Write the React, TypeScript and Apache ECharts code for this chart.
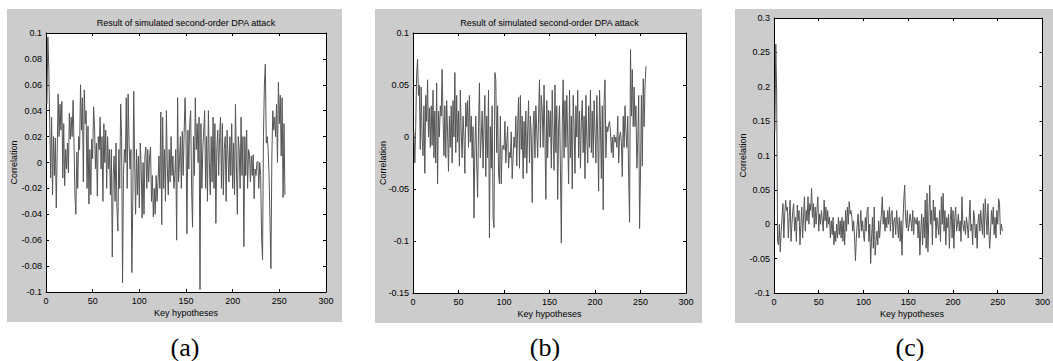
import React, { useEffect, useRef } from "react";
import * as echarts from "echarts";

const KEYS: number[] = Array.from({ length: 256 }, (_, i) => i + 1);

const TITLE = "Result of simulated second-order DPA attack";
const X_NAME = "Key hypotheses";
const Y_NAME = "Correlation";
const PANEL_LABELS = ["(a)", "(b)", "(c)"];

const SERIES_A: number[] = [
  0.045, 0.097, 0.072, 0.03, -0.012, 0.035, -0.025, 0.02, -0.01, 0.019, -0.035, 0.008, 0.053, 0.02, 0.045, 0.025,
  0.047, -0.012, 0.03, -0.018, 0.01, -0.005, 0.015, -0.008, 0.038, 0.018, 0.035, 0.02, 0.048, 0.015, -0.025, -0.04,
  0.008, -0.02, 0.02, 0.01, 0.06, 0.025, 0.05, -0.015, 0.056, 0.03, 0.04, -0.02, 0.028, -0.032, 0.01, -0.025,
  0.018, 0.003, 0.043, 0.028, -0.005, 0.015, -0.026, 0.02, 0.01, 0.035, -0.005, 0.02, -0.03, 0.03, 0.0, 0.025,
  -0.02, 0.02, -0.005, 0.01, -0.025, 0.01, -0.073, -0.01, 0.005, -0.03, 0.015, -0.035, -0.053, 0.01, -0.02, 0.045,
  0.02, -0.093, -0.01, 0.01, 0.0, 0.05, -0.02, 0.053, 0.015, -0.005, 0.01, -0.085, -0.03, 0.055, 0.0, -0.04,
  0.01, -0.025, 0.005, -0.035, 0.015, -0.005, -0.043, 0.0, -0.04, 0.005, 0.012, -0.02, 0.01, -0.015, 0.005, 0.012,
  -0.03, -0.01, -0.042, -0.02, -0.04, -0.01, -0.03, -0.015, 0.005, -0.02, 0.039, -0.048, 0.035, -0.02, 0.01, -0.03,
  0.04, -0.005, -0.025, 0.01, -0.015, 0.02, -0.01, 0.005, -0.02, -0.01, 0.01, -0.06, 0.05, -0.015, 0.0, 0.02,
  -0.02, 0.024, -0.01, 0.023, 0.05, 0.02, -0.055, 0.025, -0.005, 0.03, 0.04, -0.02, -0.05, 0.02, -0.01, 0.05,
  0.01, 0.03, 0.0, 0.035, -0.098, 0.03, -0.02, 0.01, 0.025, 0.04, -0.02, 0.02, -0.03, 0.04, 0.0, -0.025,
  0.02, -0.015, 0.035, -0.02, 0.03, -0.047, 0.01, 0.025, -0.01, 0.02, 0.035, -0.02, 0.03, -0.025, 0.01, 0.02,
  -0.03, 0.025, 0.005, -0.015, 0.02, -0.01, 0.03, -0.02, 0.015, -0.025, 0.045, 0.0, -0.04, 0.02, 0.01, -0.02,
  0.035, -0.01, 0.02, -0.065, 0.02, -0.01, 0.025, -0.02, 0.01, 0.007, -0.015, 0.005, -0.01, 0.006, -0.028, -0.005,
  -0.01, 0.0, 0.001, -0.02, 0.0, -0.01, -0.058, -0.075, 0.02, 0.06, 0.076, 0.015, 0.02, 0.01, -0.01, -0.045,
  -0.082, 0.005, 0.04, 0.025, 0.035, 0.02, 0.045, 0.0, 0.062, 0.03, 0.052, 0.005, 0.05, -0.027, 0.03, -0.025,
];

const SERIES_B: number[] = [
  0.005, -0.025, 0.01, 0.06, 0.075, 0.04, 0.05, -0.012, 0.048, 0.0, -0.018, 0.03, -0.035, 0.04, 0.015, 0.055,
  0.0, 0.028, -0.01, 0.03, -0.008, 0.045, -0.02, 0.025, -0.025, 0.052, -0.045, 0.025, 0.0, 0.03, 0.02, 0.065,
  0.02, -0.018, 0.03, -0.02, 0.035, 0.005, -0.033, 0.02, -0.01, 0.03, -0.025, 0.035, 0.0, 0.062, -0.015, 0.04,
  -0.005, 0.025, -0.028, 0.045, 0.005, -0.02, 0.02, 0.0, -0.035, 0.033, 0.01, 0.035, -0.01, 0.04, -0.005, 0.02,
  -0.02, 0.01, -0.078, -0.01, 0.02, -0.025, -0.058, 0.01, 0.052, -0.02, 0.0, 0.025, -0.03, 0.01, 0.04, -0.038,
  0.02, -0.02, 0.045, -0.097, 0.01, -0.03, 0.03, -0.078, -0.087, 0.062, 0.055, -0.015, 0.03, -0.035, -0.045, 0.02,
  -0.045, -0.01, -0.008, -0.012, 0.015, -0.025, -0.005, 0.01, -0.03, -0.015, -0.02, 0.005, -0.04, -0.02, 0.0, -0.01,
  0.02, -0.028, 0.01, 0.038, -0.03, 0.04, -0.012, 0.02, -0.04, 0.015, -0.02, 0.025, -0.035, 0.005, 0.035, -0.025,
  0.02, 0.0, -0.063, 0.01, 0.025, -0.02, 0.03, 0.005, -0.02, 0.02, 0.055, -0.01, 0.04, 0.025, -0.01, 0.05,
  0.0, -0.06, 0.035, -0.02, 0.026, 0.0, 0.025, -0.03, 0.045, 0.0, -0.032, 0.05, -0.015, 0.03, -0.06, 0.01,
  0.03, -0.03, -0.102, 0.01, 0.055, -0.02, 0.035, -0.01, 0.04, 0.0, -0.045, 0.045, -0.02, 0.02, -0.05, 0.04,
  0.01, -0.035, 0.03, 0.0, 0.045, -0.02, 0.025, -0.03, 0.015, 0.035, -0.015, 0.02, -0.04, 0.04, 0.0, -0.025,
  0.03, -0.01, 0.045, -0.015, 0.025, -0.02, 0.035, 0.005, -0.025, 0.04, 0.0, -0.052, 0.045, 0.01, -0.04, 0.03,
  -0.07, 0.035, 0.055, -0.02, 0.01, 0.005, 0.012, 0.015, 0.005, -0.015, 0.0, -0.02, 0.002, -0.005, 0.0, -0.01,
  0.02, -0.025, 0.0, 0.005, -0.005, -0.038, 0.02, -0.01, 0.03, 0.005, -0.01, 0.02, -0.04, -0.082, 0.084, 0.02,
  0.065, 0.01, 0.048, 0.01, 0.03, -0.03, -0.005, 0.04, -0.088, -0.035, 0.04, -0.028, 0.056, 0.01, 0.05, 0.068,
];

const SERIES_C: number[] = [
  0.135, 0.262, 0.188, -0.025, -0.03, 0.0, -0.04, -0.01, 0.01, 0.03, -0.02, 0.015, 0.035, 0.02, 0.025, -0.02,
  0.01, 0.035, -0.025, 0.0, 0.02, 0.03, -0.01, 0.01, -0.025, 0.028, 0.005, 0.02, -0.03, 0.0, 0.025, -0.02,
  0.01, 0.04, -0.01, 0.02, 0.005, 0.04, 0.0, 0.03, 0.02, 0.052, 0.01, 0.03, -0.005, 0.025, 0.0, 0.02,
  0.04, -0.01, 0.015, 0.0, 0.02, 0.005, -0.01, 0.035, 0.005, 0.025, -0.005, 0.02, 0.0, 0.01, -0.02, 0.005,
  -0.015, 0.01, -0.03, -0.01, -0.025, 0.0, -0.02, 0.01, -0.015, 0.005, -0.02, 0.01, -0.025, 0.005, -0.03, 0.02,
  -0.01, 0.025, 0.0, 0.033, 0.015, 0.02, 0.01, -0.01, 0.005, -0.02, -0.053, -0.02, 0.0, 0.015, -0.02, -0.005,
  0.02, -0.01, 0.005, -0.015, -0.025, 0.01, -0.01, 0.02, 0.025, -0.025, 0.0, -0.057, -0.02, 0.01, -0.035, 0.025,
  -0.045, -0.025, -0.01, -0.03, 0.005, -0.02, 0.0, 0.015, 0.04, 0.0, 0.02, -0.01, 0.01, -0.005, 0.02, 0.0,
  0.025, -0.01, 0.015, 0.02, -0.02, 0.005, 0.01, -0.015, 0.02, 0.0, -0.02, 0.01, -0.025, 0.005, -0.045, 0.0,
  0.035, 0.057, 0.01, -0.005, 0.02, -0.01, 0.0, 0.015, 0.005, -0.01, 0.02, -0.015, 0.01, 0.005, 0.0, 0.01,
  -0.02, 0.005, -0.045, -0.01, 0.015, -0.03, 0.01, -0.02, 0.035, -0.035, 0.045, -0.04, 0.01, 0.057, 0.0, 0.02,
  -0.03, 0.035, 0.005, 0.025, -0.02, 0.01, 0.0, -0.015, 0.02, -0.025, 0.04, 0.0, 0.045, -0.01, 0.02, -0.03,
  0.01, -0.005, 0.015, -0.035, 0.005, 0.025, -0.02, 0.02, -0.035, 0.01, 0.025, -0.01, 0.0, 0.015, -0.01, 0.005,
  -0.025, 0.04, 0.0, -0.01, 0.005, -0.015, 0.01, 0.0, -0.02, 0.005, 0.035, -0.01, 0.0, -0.03, 0.02, 0.01,
  -0.02, 0.0, -0.035, 0.005, 0.015, -0.01, 0.02, 0.0, -0.015, 0.03, -0.02, 0.037, 0.01, -0.015, 0.03, -0.01,
  -0.035, -0.01, 0.02, 0.0, 0.025, -0.015, 0.01, -0.02, 0.02, 0.0, 0.037, 0.03, -0.015, 0.0, -0.008, -0.01,
];

// y-axis ranges per panel: [min, max, interval]
const Y_RANGES: [number, number, number][] = [
  [-0.1, 0.1, 0.02],
  [-0.15, 0.1, 0.05],
  [-0.1, 0.3, 0.05],
];
const X_RANGE: [number, number, number] = [0, 300, 50];

const FONT = "Liberation Sans";

export default function App() {
  const ref = useRef<HTMLDivElement>(null);

  useEffect(() => {
    if (!ref.current) return;
    const chart = echarts.init(ref.current, undefined, { renderer: "svg" });

    const grids = [
      { left: 46, top: 33, width: 280, height: 259 },
      { left: 413, top: 33, width: 273, height: 260 },
      { left: 774, top: 18, width: 276, height: 275 },
    ];
    const panels = [
      { x: 7, y: 9, w: 335, h: 313 },
      { x: 375, y: 9, w: 327, h: 314 },
      { x: 735, y: 9, w: 330, h: 314 },
    ];
    const seriesData = [SERIES_A, SERIES_B, SERIES_C];

    const labelStyle = { fontSize: 9, fontFamily: FONT, color: "#000" };
    const lineStyle = { color: "#000", width: 1 };

    const xAxis: any[] = [];
    const yAxis: any[] = [];
    grids.forEach((_, gi) => {
      const [ymin, ymax, yint] = Y_RANGES[gi];
      for (const pos of ["bottom", "top"]) {
        xAxis.push({
          type: "value",
          gridIndex: gi,
          position: pos,
          min: X_RANGE[0],
          max: X_RANGE[1],
          interval: X_RANGE[2],
          axisLine: { show: true, onZero: false, lineStyle },
          axisTick: { show: true, inside: true, length: 3, lineStyle },
          axisLabel: { show: pos === "bottom", ...labelStyle, margin: 4 },
          splitLine: { show: false },
        });
      }
      for (const pos of ["left", "right"]) {
        yAxis.push({
          type: "value",
          gridIndex: gi,
          position: pos,
          min: ymin,
          max: ymax,
          interval: yint,
          axisLine: { show: true, onZero: false, lineStyle },
          axisTick: { show: true, inside: true, length: 3, lineStyle },
          axisLabel: { show: pos === "left", ...labelStyle, margin: 4 },
          splitLine: { show: false },
        });
      }
    });

    const series = seriesData.map((vals, gi) => ({
      type: "line",
      xAxisIndex: gi * 2,
      yAxisIndex: gi * 2,
      data: vals.map((v, i) => [KEYS[i], v]),
      showSymbol: false,
      symbol: "none",
      lineStyle: { color: "#555555", width: 1 },
      silent: true,
    }));

    const graphic: any[] = [];
    panels.forEach((p) => {
      graphic.push({
        type: "rect",
        z: -10,
        shape: { x: p.x, y: p.y, width: p.w, height: p.h },
        style: { fill: "#cccccc" },
        silent: true,
      });
    });
    const textStyle = (text: string) => ({
      text,
      align: "center",
      verticalAlign: "middle",
      fontSize: 9,
      fontFamily: FONT,
      fill: "#000",
    });
    // titles (panels a and b)
    [0, 1].forEach((gi) => {
      const g = grids[gi];
      graphic.push({ type: "text", x: g.left + g.width / 2, y: 23, style: textStyle(TITLE) });
    });
    // axis names
    const yNameX = [14, 383, 743];
    grids.forEach((g, gi) => {
      graphic.push({
        type: "text",
        x: g.left + g.width / 2,
        y: g.top + g.height + 21,
        style: textStyle(X_NAME),
      });
      graphic.push({
        type: "text",
        x: yNameX[gi],
        y: g.top + g.height / 2,
        rotation: Math.PI / 2,
        style: textStyle(Y_NAME),
      });
    });
    // panel labels
    const labelX = [185, 545, 910];
    PANEL_LABELS.forEach((t, i) => {
      graphic.push({
        type: "text",
        x: labelX[i],
        y: 347,
        style: {
          text: t,
          align: "center",
          verticalAlign: "middle",
          fontSize: 26,
          fontFamily: "Liberation Serif",
          fill: "#000",
        },
      });
    });

    chart.setOption({
      animation: false,
      backgroundColor: "#ffffff",
      grid: grids.map((g) => ({ ...g, show: true, backgroundColor: "#ffffff", borderWidth: 0 })),
      xAxis,
      yAxis,
      series,
      graphic,
    });

    return () => chart.dispose();
  }, []);

  return (
    <div
      ref={ref}
      style={{ position: "fixed", left: 0, top: 0, width: 1053, height: 361 }}
    />
  );
}
